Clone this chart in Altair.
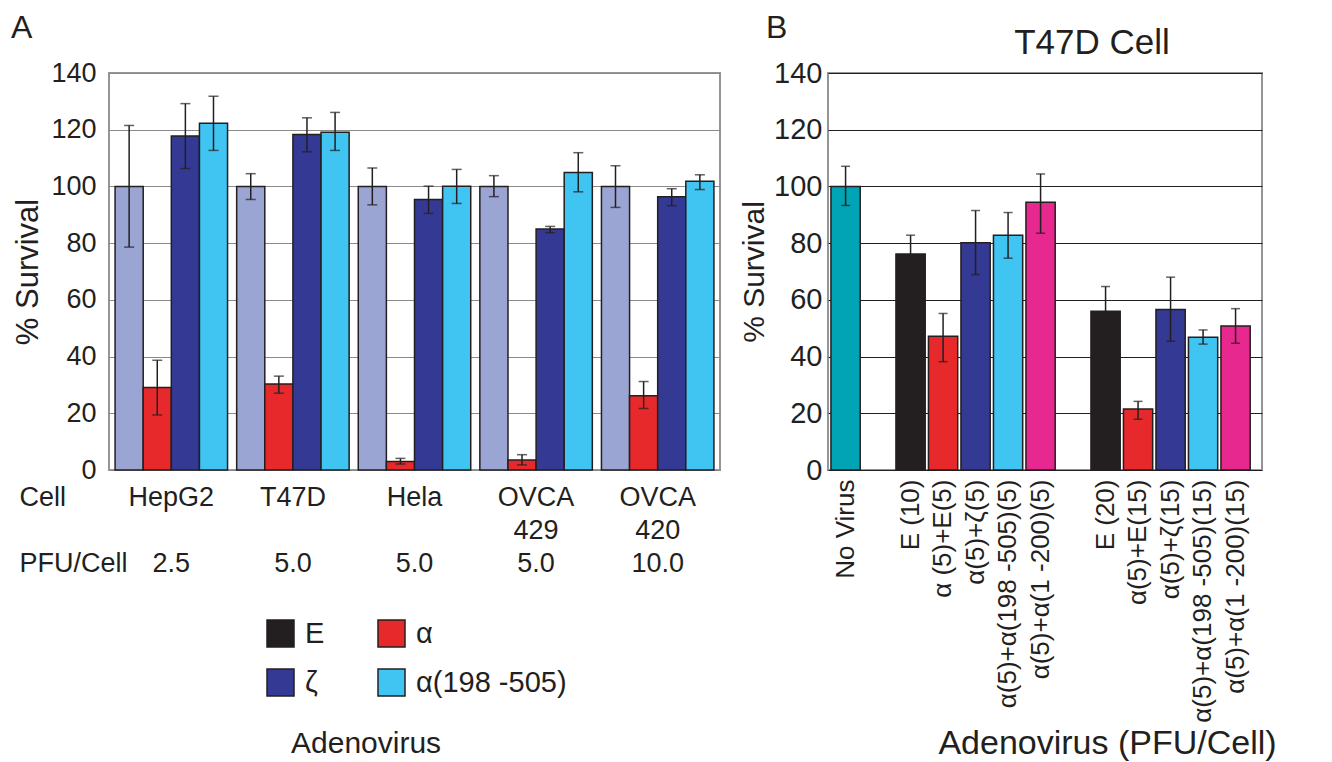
import altair as alt
import pandas as pd

# ---------------- Panel A data ----------------
letterA = "A"
cellsA = ["HepG2", "T47D", "Hela", "OVCA", "OVCA"]
cellsA_line2 = ["", "", "", "429", "420"]
pfuA = ["2.5", "5.0", "5.0", "5.0", "10.0"]
seriesA = ["E", "α", "ζ", "α(198 -505)"]
legend_titleA = "Adenovirus"

valA_E = [100, 100, 100, 100, 100]
loA_E = [78.6, 95.4, 93.5, 96.4, 92.6]
hiA_E = [121.5, 104.5, 106.5, 103.8, 107.3]
valA_a = [29.1, 30.3, 3.0, 3.5, 26.2]
loA_a = [19.4, 27.1, 2.1, 1.8, 21.7]
hiA_a = [38.7, 33.1, 4.1, 5.4, 31.2]
valA_z = [117.8, 118.3, 95.4, 85.0, 96.4]
loA_z = [106.3, 112.2, 90.5, 83.7, 93.2]
hiA_z = [129.2, 124.2, 100.1, 85.9, 99.2]
valA_t = [122.3, 119.1, 100.1, 104.9, 101.8]
loA_t = [112.7, 112.7, 94.0, 98.1, 98.9]
hiA_t = [131.8, 126.1, 106.0, 111.9, 104.1]

# ---------------- Panel B data ----------------
letterB = "B"
titleB = "T47D Cell"
labelsB = ["No Virus", "E (10)", "α (5)+E(5)", "α(5)+ζ(5)", "α(5)+α(198 -505)(5)",
           "α(5)+α(1 -200)(5)", "E (20)", "α(5)+E(15)", "α(5)+ζ(15)",
           "α(5)+α(198 -505)(15)", "α(5)+α(1 -200)(15)"]
typeB = ["none", "E", "α", "ζ", "α198", "α1-200", "E", "α", "ζ", "α198", "α1-200"]
valB = [100, 76.2, 47.2, 80.1, 82.8, 94.4, 56.0, 21.5, 56.6, 46.8, 50.8]
loB = [93.3, 69.6, 38.2, 68.9, 74.7, 83.5, 47.4, 17.9, 45.4, 44.4, 44.7]
hiB = [107.1, 82.8, 55.2, 91.5, 90.8, 104.4, 64.7, 24.2, 68.0, 49.4, 56.9]

# ---------------- styles ----------------
BLACK = "#231F20"
bar_colors_A = ["#9AA5D3", "#E8292C", "#343A94", "#40C4F1"]
legend_colors_A = [BLACK, "#E8292C", "#343A94", "#40C4F1"]
typesB_domain = ["none", "E", "α", "ζ", "α198", "α1-200"]
typesB_colors = ["#00A4B4", BLACK, "#E8292C", "#343A94", "#40C4F1", "#E7288F"]
FONT = "Liberation Sans, Arial, DejaVu Sans, sans-serif"
BLANK = "\u200b"
NBSP = "\u00a0"

# ---------------- build tables ----------------
ticksA = [f"{c}|{l2 or BLANK}|{p}" for c, l2, p in zip(cellsA, cellsA_line2, pfuA)]
rows = []
for s, vals, los, his in zip(seriesA,
                             [valA_E, valA_a, valA_z, valA_t],
                             [loA_E, loA_a, loA_z, loA_t],
                             [hiA_E, hiA_a, hiA_z, hiA_t]):
    for t, v, lo, hi in zip(ticksA, vals, los, his):
        rows.append({"tick": t, "series": s, "key": s, "value": v, "lo": lo, "hi": hi})
dfA = pd.DataFrame(rows)

domainB = [labelsB[0], " "] + labelsB[1:6] + ["  "] + labelsB[6:]
dfB = pd.DataFrame({"label": labelsB, "type": typeB, "value": valB, "lo": loB, "hi": hiB})

# ---------------- Panel A ----------------
yvals = list(range(0, 141, 20))
xA = alt.X("tick:N", sort=ticksA,
           scale=alt.Scale(domain=ticksA, paddingInner=0.075, paddingOuter=0.05),
           axis=alt.Axis(labelExpr="split(datum.label, '|')", labelAngle=0,
                         labelFontSize=27, labelLineHeight=33, labelPadding=14,
                         labelLimit=400, ticks=False, tickSize=0, domain=False,
                         title=["Cell", BLANK, "PFU/Cell"], titleAngle=0, titleAlign="left",
                         titleBaseline="top", titleX=-90, titleY=14, titleFontSize=27,
                         titleLineHeight=33, titleFontWeight="normal"))
xoffA = alt.XOffset("series:N", sort=seriesA, scale=alt.Scale(paddingInner=0))
yA = alt.Y("value:Q", title="% Survival",
           scale=alt.Scale(domain=[0, 140], nice=False),
           axis=alt.Axis(values=yvals, titleFontSize=31, labelFontSize=27, labelPadding=13,
                         ticks=False, tickSize=0, domain=False, grid=True,
                         gridColor="#8a8a8a", gridWidth=1.2, titlePadding=6,
                         titleFontWeight="normal"))

baseA = alt.Chart(dfA)
# bar fill scale takes its domain from the data (sorted), the legend scale an explicit one
barsA = baseA.mark_bar(stroke=BLACK, strokeWidth=1.5).encode(
    x=xA, xOffset=xoffA, y=yA,
    fill=alt.Fill("series:N", sort=seriesA,
                  scale=alt.Scale(range=bar_colors_A), legend=None))
legendA = baseA.mark_square(opacity=0, size=10).encode(
    x=xA, xOffset=xoffA, y=alt.Y("value:Q", title="% Survival"),
    color=alt.Color("key:N",
                    scale=alt.Scale(domain=seriesA, range=legend_colors_A),
                    legend=alt.Legend(orient="none", legendX=157, legendY=546, columns=2,
                                      direction="horizontal",
                                      columnPadding=50, rowPadding=16, symbolType="square",
                                      symbolSize=729, symbolStrokeColor=BLACK,
                                      symbolStrokeWidth=1.5, symbolOpacity=1,
                                      labelFontSize=29, labelOffset=10, labelColor=BLACK,
                                      title=BLANK + NBSP * 3 + legend_titleA,
                                      titleOrient="bottom",
                                      titleAnchor="start", titleFontSize=30,
                                      titleFontWeight="normal", titlePadding=30,
                                      titleColor=BLACK, padding=0)))
rulesA = baseA.mark_rule(color=BLACK, strokeWidth=1.5).encode(
    x=xA, xOffset=xoffA, y=alt.Y("lo:Q", title="% Survival"), y2="hi:Q")
capLoA = baseA.mark_tick(color=BLACK, thickness=1.5, size=10).encode(
    x=xA, xOffset=xoffA, y=alt.Y("lo:Q", title="% Survival"))
capHiA = baseA.mark_tick(color=BLACK, thickness=1.5, size=10).encode(
    x=xA, xOffset=xoffA, y=alt.Y("hi:Q", title="% Survival"))
headA = alt.Chart(pd.DataFrame({"t": [letterA]})).mark_text(
    fontSize=32, align="left", baseline="middle", color=BLACK).encode(
    text="t:N", x=alt.value(-98), y=alt.value(-45))

panelA = alt.layer(barsA, legendA, rulesA, capLoA, capHiA, headA).properties(
    width=611, height=397)

# ---------------- Panel B ----------------
xB = alt.X("label:N", sort=domainB,
           scale=alt.Scale(domain=domainB, paddingInner=0.1, paddingOuter=0.227, align=0.2),
           axis=alt.Axis(labelAngle=-90, labelFontSize=26, labelPadding=9, labelLimit=400,
                         ticks=False, tickSize=0, domain=False,
                         title="Adenovirus (PFU/Cell)", titleFontSize=34, titleX=279,
                         titleY=273, titleBaseline="middle", titleFontWeight="normal"))
yB = alt.Y("value:Q", title="% Survival",
           scale=alt.Scale(domain=[0, 140], nice=False),
           axis=alt.Axis(values=yvals, titleFontSize=30, labelFontSize=29, labelPadding=6,
                         ticks=False, tickSize=0, domain=False, grid=True,
                         gridColor=BLACK, gridWidth=1, titlePadding=4,
                         titleFontWeight="normal"))
baseB = alt.Chart(dfB)
barsB = baseB.mark_bar(stroke=BLACK, strokeWidth=1.5).encode(
    x=xB, y=yB,
    fill=alt.Fill("type:N", scale=alt.Scale(domain=typesB_domain, range=typesB_colors),
                  legend=None))
rulesB = baseB.mark_rule(color=BLACK, strokeWidth=1.5).encode(
    x=xB, y=alt.Y("lo:Q", title="% Survival"), y2="hi:Q")
capLoB = baseB.mark_tick(color=BLACK, thickness=1.5, size=9).encode(
    x=xB, y=alt.Y("lo:Q", title="% Survival"))
capHiB = baseB.mark_tick(color=BLACK, thickness=1.5, size=9).encode(
    x=xB, y=alt.Y("hi:Q", title="% Survival"))
headB = alt.Chart(pd.DataFrame({"t": [letterB]})).mark_text(
    fontSize=32, align="left", baseline="middle", color=BLACK).encode(
    text="t:N", x=alt.value(-62), y=alt.value(-45))
titleLayerB = alt.Chart(pd.DataFrame({"t": [titleB]})).mark_text(
    fontSize=35, align="center", baseline="middle", color=BLACK).encode(
    text="t:N", x=alt.value(264), y=alt.value(-30))

panelB = alt.layer(barsB, rulesB, capLoB, capHiB, headB, titleLayerB).properties(
    width=434, height=397)

chart = alt.hconcat(panelA, panelB, spacing=17).resolve_scale(
    fill="independent", color="independent"
).properties(
    padding={"left": 2, "top": 3, "right": 2, "bottom": 0}
).configure(font=FONT).configure_view(
    stroke="#939598", strokeWidth=2
).configure_axis(
    labelColor=BLACK, titleColor=BLACK, labelFont=FONT, titleFont=FONT
).configure_legend(labelFont=FONT, titleFont=FONT)

chart.save("out.html", embed_options={"renderer": "svg", "actions": False})
